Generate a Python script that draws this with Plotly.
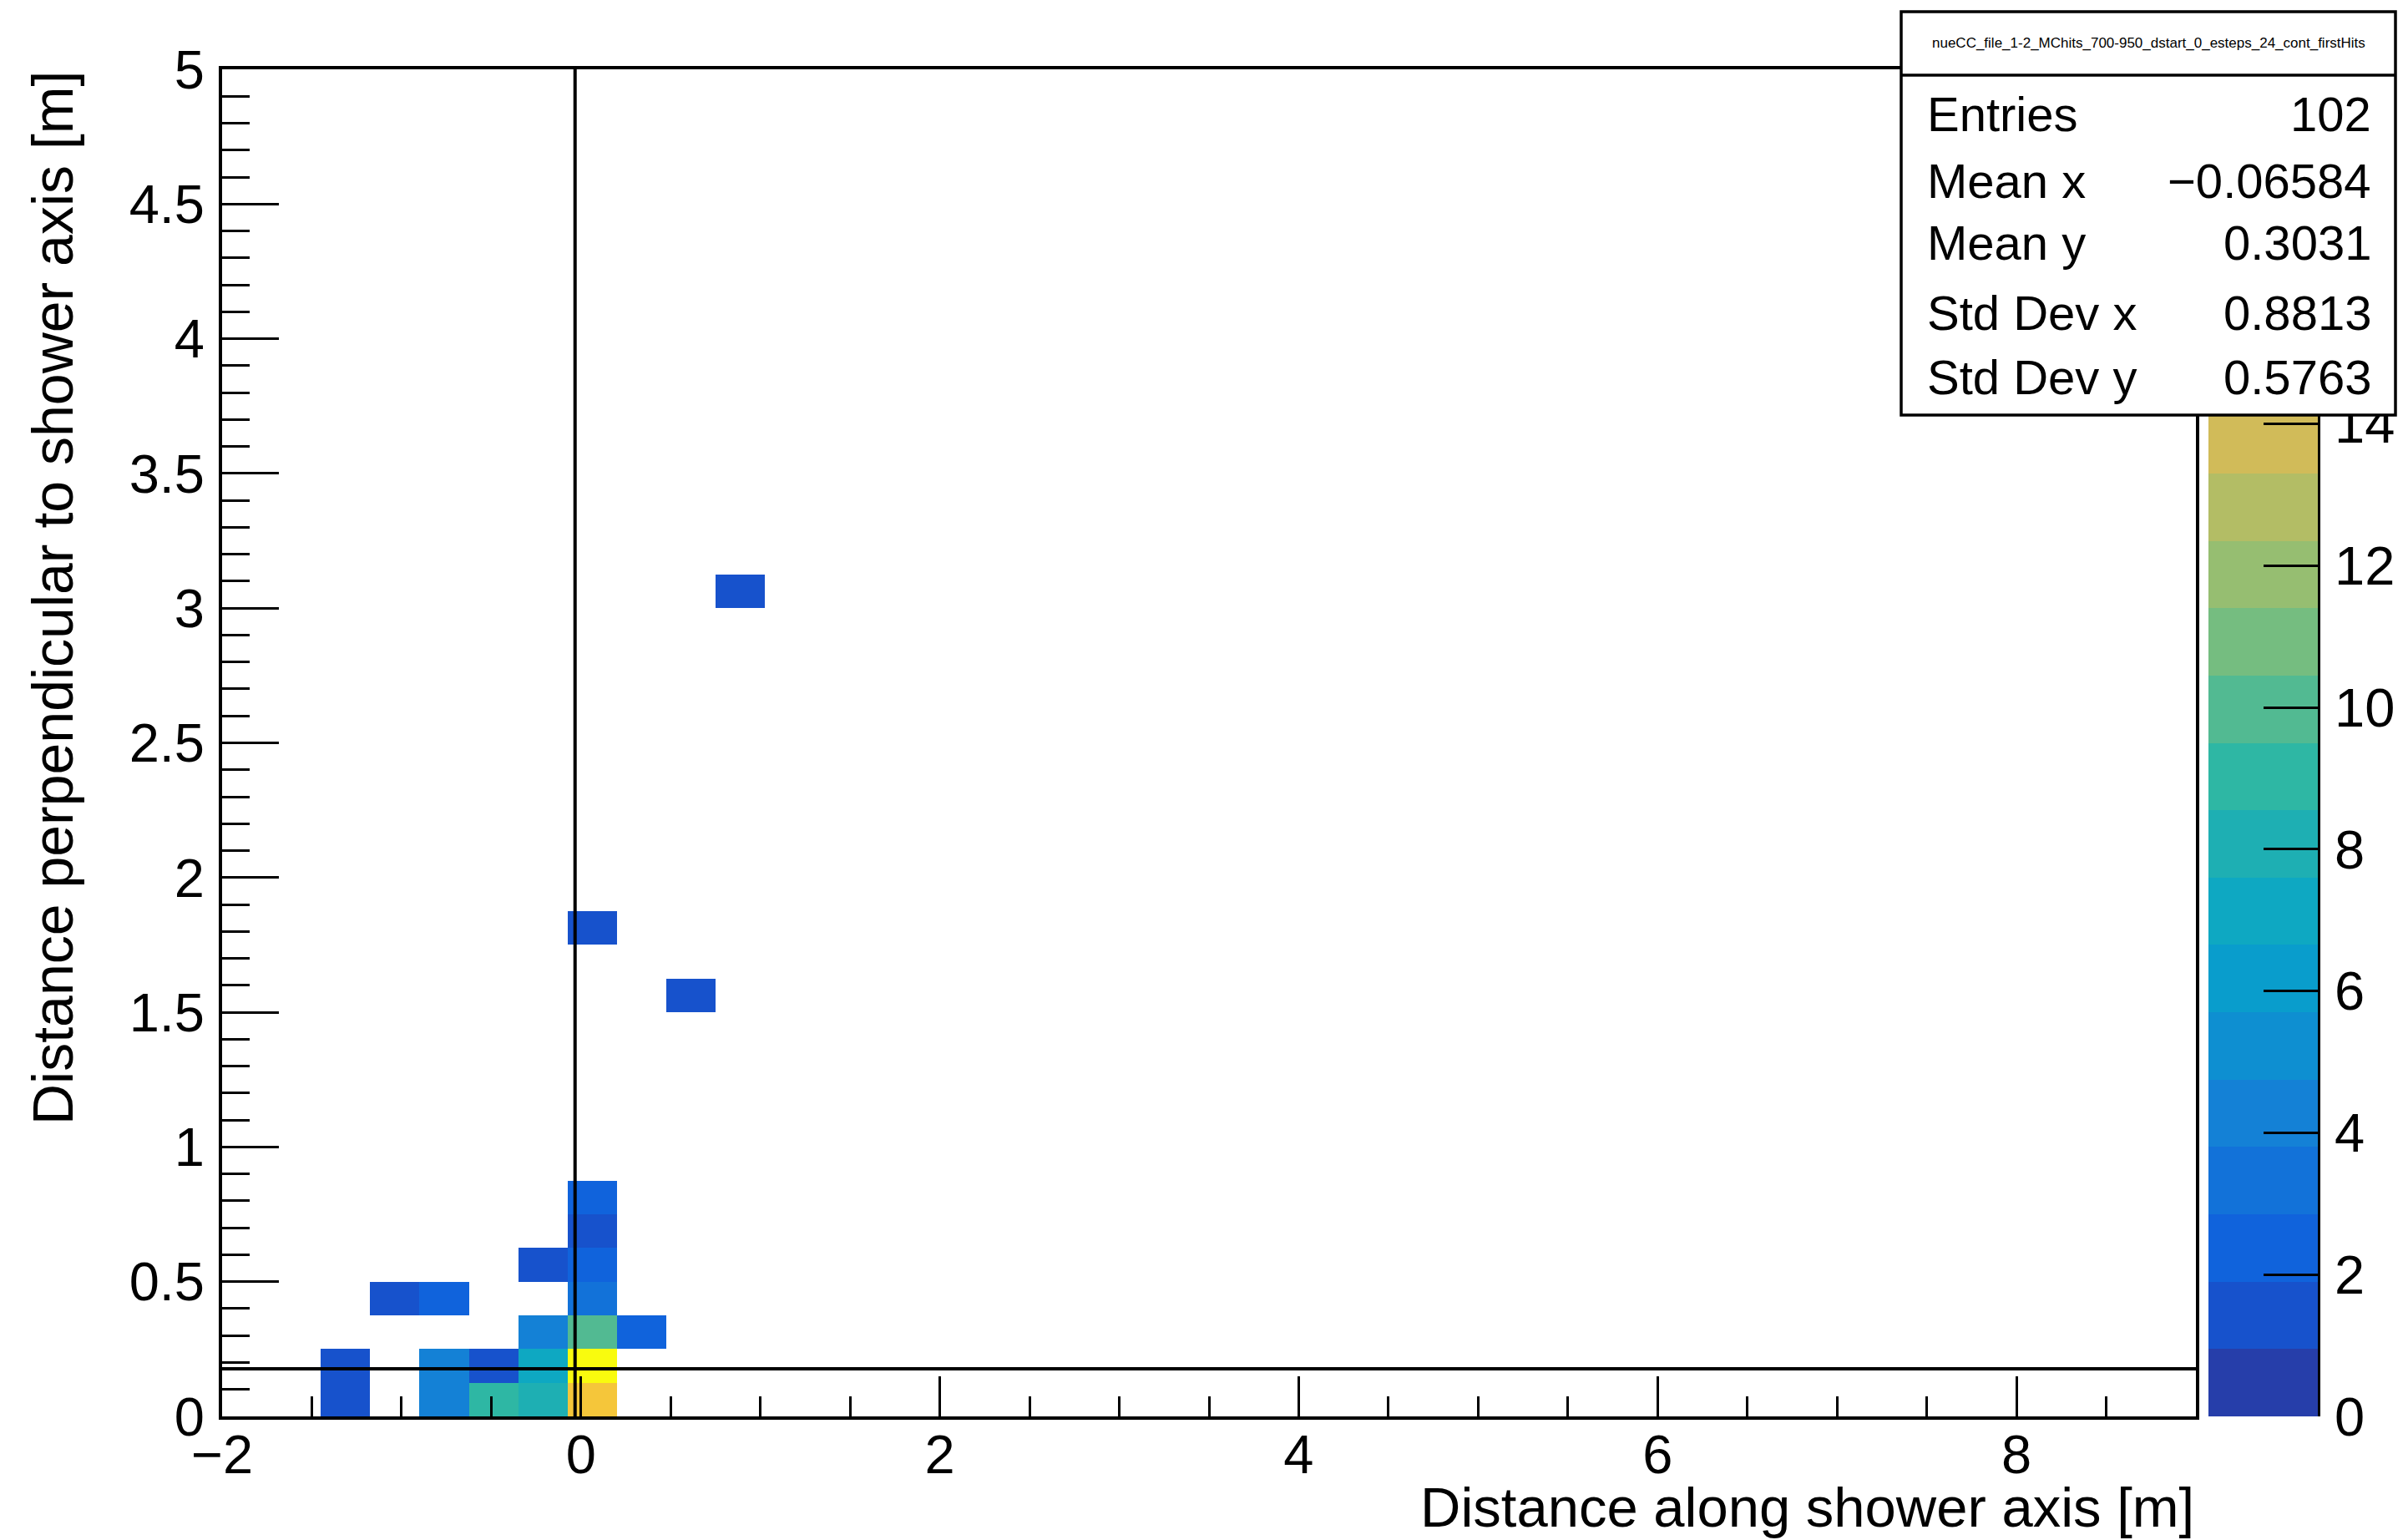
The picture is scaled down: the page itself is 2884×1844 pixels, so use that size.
import plotly.graph_objects as go

# ---------------- data ----------------
X_MIN, X_MAX, N_XBINS = -2.0, 9.0, 40
Y_MIN, Y_MAX, N_YBINS = 0.0, 5.0, 40

# filled cells of the 2D histogram (bin indices, counts)
cell_x_bin = [2, 4, 5, 6, 7, 2, 4, 5, 6, 7, 6, 7, 8, 3, 4, 7, 6, 7, 7, 7, 7, 9, 10]
cell_y_bin = [0, 0, 0, 0, 0, 1, 1, 1, 1, 1, 2, 2, 2, 3, 3, 3, 4, 4, 5, 6, 14, 12, 24]
cell_count = [1, 4, 9, 8, 16, 1, 4, 1, 7, 19, 4, 10, 2, 1, 2, 3, 1, 2, 1, 2, 1, 1, 1]

Z_MAX = 19.0
N_CONTOURS = 20
palette_ticks = [0, 2, 4, 6, 8, 10, 12, 14]   # 16 and 18 lie under the stats box

vertical_line_x = -0.033
horizontal_line_y = 0.177

hist_title = "nueCC_file_1-2_MChits_700-950_dstart_0_esteps_24_cont_firstHits"
stats_labels = ["Entries", "Mean x", "Mean y", "Std Dev x", "Std Dev y"]
stats_values = ["102", "\u22120.06584", "0.3031", "0.8813", "0.5763"]

x_title = "Distance along shower axis [m]"
y_title = "Distance perpendicular to shower axis [m]"

# ---------------- kBird palette ----------------
stops = [0.0, 0.125, 0.25, 0.375, 0.5, 0.625, 0.75, 0.875, 1.0]
red = [0.2082, 0.0592, 0.0780, 0.0232, 0.1802, 0.5301, 0.8186, 0.9956, 0.9764]
green = [0.1664, 0.3599, 0.5041, 0.6419, 0.7178, 0.7492, 0.7328, 0.7862, 0.9832]
blue = [0.5293, 0.8684, 0.8385, 0.7914, 0.6425, 0.4662, 0.3499, 0.1968, 0.0539]


def bird(t):
    t = min(max(t, 0.0), 1.0)
    for i in range(len(stops) - 1):
        if stops[i] <= t <= stops[i + 1]:
            f = (t - stops[i]) / (stops[i + 1] - stops[i])
            r = red[i] + f * (red[i + 1] - red[i])
            g = green[i] + f * (green[i + 1] - green[i])
            b = blue[i] + f * (blue[i + 1] - blue[i])
            return "rgb(%d,%d,%d)" % (round(r * 255), round(g * 255), round(b * 255))
    return "rgb(249,251,14)"


colorscale = []
for k in range(N_CONTOURS):
    c = bird((k + 1) / N_CONTOURS)
    colorscale.append([k / N_CONTOURS, c])
    colorscale.append([(k + 1) / N_CONTOURS, c])

# ---------------- build histogram matrix ----------------
dx = (X_MAX - X_MIN) / N_XBINS
dy = (Y_MAX - Y_MIN) / N_YBINS
z = [[None] * N_XBINS for _ in range(N_YBINS)]
for ix, iy, n in zip(cell_x_bin, cell_y_bin, cell_count):
    z[iy][ix] = n

W, H = 2884, 1844
def px(x):
    return x / W
def py(y):
    return 1 - y / H

FONT = "Liberation Sans, Arial, Helvetica, sans-serif"

fig = go.Figure()
fig.add_trace(go.Heatmap(
    z=z, x0=X_MIN + dx / 2, dx=dx, y0=Y_MIN + dy / 2, dy=dy,
    zmin=0, zmax=Z_MAX, colorscale=colorscale, showscale=False,
    hoverongaps=False, xaxis="x", yaxis="y",
))

# palette (colour bar) drawn as its own heatmap
band = Z_MAX / N_CONTOURS
fig.add_trace(go.Heatmap(
    z=[[(k + 0.5) * band] for k in range(N_CONTOURS)],
    x=[0, 1], y=[k * band for k in range(N_CONTOURS + 1)],
    zmin=0, zmax=Z_MAX, colorscale=colorscale, showscale=False,
    xaxis="x2", yaxis="y2",
))

x_dom = [px(266), px(2630)]
y_dom = [py(1696), py(83)]

fig.update_layout(
    width=W, height=H,
    margin=dict(l=0, r=0, t=0, b=0, autoexpand=False),
    paper_bgcolor="white", plot_bgcolor="white",
    showlegend=False,
    font=dict(family=FONT, color="black"),
    xaxis=dict(
        domain=x_dom, range=[X_MIN, X_MAX], showgrid=False, zeroline=False,
        automargin=False,
        showline=True, linecolor="black", linewidth=4, mirror=True,
        ticks="inside", tickcolor="black", ticklen=48, tickwidth=3.3,
        tick0=0, dtick=2, tickfont=dict(size=65, family=FONT),
        minor=dict(ticks="inside", dtick=0.5, ticklen=24, tickwidth=3.3, tickcolor="black"),
        ticklabelstandoff=-14,
    ),
    yaxis=dict(
        domain=y_dom, range=[Y_MIN, Y_MAX], showgrid=False, zeroline=False,
        automargin=False,
        showline=True, linecolor="black", linewidth=4, mirror=True,
        ticks="inside", tickcolor="black", ticklen=68, tickwidth=3.3,
        tick0=0, dtick=0.5, tickfont=dict(size=65, family=FONT),
        minor=dict(ticks="inside", dtick=0.1, ticklen=33, tickwidth=3.3, tickcolor="black"),
        ticklabelstandoff=4,
    ),
    xaxis2=dict(
        domain=[px(2645), px(2776)], range=[0, 1], visible=False,
        anchor="y2", automargin=False,
    ),
    yaxis2=dict(
        domain=y_dom, range=[0, Z_MAX], side="right", anchor="x2",
        automargin=False,
        showgrid=False, zeroline=False, showline=True, linecolor="black",
        linewidth=3, ticks="inside", ticklen=65, tickwidth=3.3, tickcolor="black",
        tickvals=palette_ticks, tickfont=dict(size=65, family=FONT),
        ticklabelstandoff=4,
    ),
)

shapes = [
    dict(type="line", xref="x", yref="y", x0=vertical_line_x, x1=vertical_line_x,
         y0=Y_MIN, y1=Y_MAX, line=dict(color="black", width=4), layer="above"),
    dict(type="line", xref="x", yref="y", x0=X_MIN, x1=X_MAX,
         y0=horizontal_line_y, y1=horizontal_line_y, line=dict(color="black", width=4),
         layer="above"),
    # stats box
    dict(type="rect", xref="paper", yref="paper", x0=px(2277), x1=px(2869),
         y0=py(497), y1=py(14), fillcolor="white", line=dict(color="black", width=3.5),
         layer="above"),
    dict(type="line", xref="paper", yref="paper", x0=px(2277), x1=px(2869),
         y0=py(90), y1=py(90), line=dict(color="black", width=3.5), layer="above"),
]
fig.update_layout(shapes=shapes)

annotations = [
    dict(text=hist_title, x=px(2573), y=py(52), xref="paper", yref="paper",
         xanchor="center", yanchor="middle", showarrow=False,
         font=dict(size=17, family=FONT)),
    dict(text=x_title, x=px(2630), y=py(1804), xref="paper", yref="paper",
         xanchor="right", yanchor="middle", showarrow=False,
         font=dict(size=67, family=FONT)),
    dict(text=y_title, x=px(63), y=py(83), xref="paper", yref="paper",
         xanchor="center", yanchor="top", textangle=-90, showarrow=False,
         font=dict(size=68, family=FONT)),
]
row_y = [136, 216, 291, 375, 451]
for lab, val, ry in zip(stats_labels, stats_values, row_y):
    annotations.append(dict(text=lab, x=px(2306), y=py(ry), xref="paper", yref="paper",
                            xanchor="left", yanchor="middle", showarrow=False,
                            font=dict(size=58, family=FONT)))
    annotations.append(dict(text=val, x=px(2842), y=py(ry), xref="paper", yref="paper",
                            xanchor="right", yanchor="middle", showarrow=False,
                            font=dict(size=58, family=FONT)))
fig.update_layout(annotations=annotations)

fig.write_html("out.html")
